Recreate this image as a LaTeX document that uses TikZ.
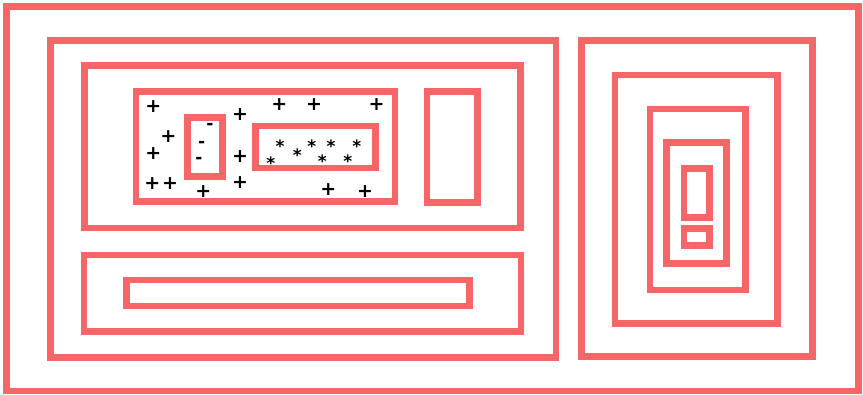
\documentclass[tikz,border=0pt]{standalone}
\usepackage{fontspec}
\newfontfamily\symfont{DejaVu Sans}
\definecolor{boxred}{RGB}{247,102,102}
\begin{document}
\begin{tikzpicture}[x=1pt,y=-1pt,
  box/.style={draw=boxred,line width=6.8pt,line join=miter},
  plus/.style={inner sep=0pt,font=\symfont\bfseries\fontsize{19}{19}\selectfont},
  minus/.style={inner sep=0pt,font=\symfont\bfseries\fontsize{17}{17}\selectfont,yshift=-1.9pt},
  star/.style={inner sep=0pt,font=\symfont\bfseries\fontsize{17}{17}\selectfont,yshift=-3.7pt}]
\useasboundingbox (0,0) rectangle (863,395);
\fill[white] (0,0) rectangle (863,395);
% outer frame
\draw[box] (6.5,6.5) rectangle (858.5,391);
% left group
\draw[box] (50.5,40.5) rectangle (556,357.5);
\draw[box] (84.5,65.5) rectangle (520.5,228);
\draw[box] (136,91.5) rectangle (395,201.5);
\draw[box] (187.5,117.5) rectangle (222.5,176.5);
\draw[box] (255.5,126) rectangle (375.5,168);
\draw[box] (427,91.5) rectangle (477.5,202.5);
\draw[box] (84,255) rectangle (521,331.5);
\draw[box] (126.5,280) rectangle (469.5,306);
% right group
\draw[box] (581.5,40.5) rectangle (812.5,356.5);
\draw[box] (615,75) rectangle (777.5,323.5);
\draw[box] (650,109) rectangle (745.5,290);
\draw[box] (666.5,142.5) rectangle (726.5,263.5);
\draw[box] (684,168.5) rectangle (709.5,217.5);
\draw[box] (684,228.5) rectangle (709.5,245.5);
% plus signs
\node[plus] (p1) at (153.3,106.7) {+};
\node[plus] (p2) at (240,115) {+};
\node[plus] (p3) at (168.3,136.7) {+};
\node[plus] (p4) at (153.3,153.3) {+};
\node[plus] (p5) at (240,156.7) {+};
\node[plus] (p6) at (152.3,183.3) {+};
\node[plus] (p7) at (170,183.3) {+};
\node[plus] (p8) at (240,182.7) {+};
\node[plus] (p9) at (203.3,191.7) {+};
\node[plus] (p10) at (279.3,105) {+};
\node[plus] (p11) at (314,105) {+};
\node[plus] (p12) at (376.7,105) {+};
\node[plus] (p13) at (328.3,190) {+};
\node[plus] (p14) at (365,191.7) {+};
% minus signs
\node[minus] (m1) at (210,125) {-};
\node[minus] (m2) at (201.7,142.3) {-};
\node[minus] (m3) at (199,159) {-};
% stars
\node[star] (s1) at (280,142.7) {*};
\node[star] (s2) at (270.7,159.3) {*};
\node[star] (s3) at (297.3,151) {*};
\node[star] (s4) at (311.7,142.3) {*};
\node[star] (s5) at (331,142.3) {*};
\node[star] (s6) at (322.3,157.3) {*};
\node[star] (s7) at (356.7,142.3) {*};
\node[star] (s8) at (347.7,157.3) {*};
\end{tikzpicture}
\end{document}
